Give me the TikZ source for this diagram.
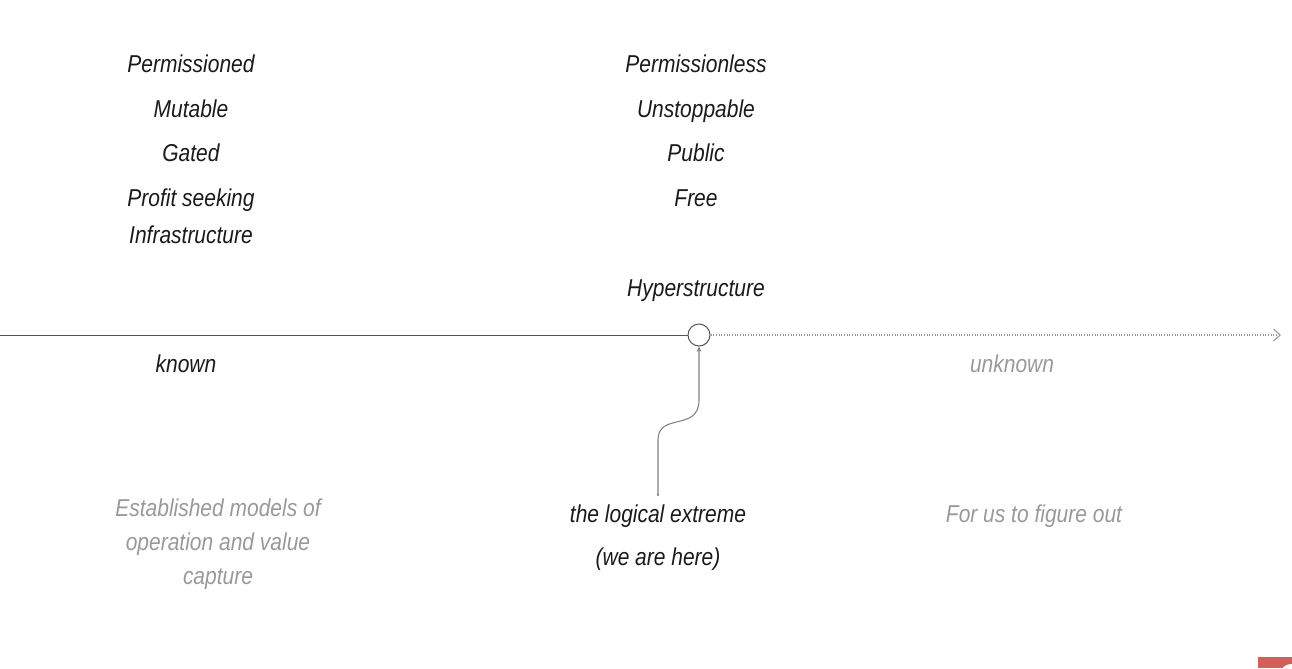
\documentclass[tikz,border=0pt]{standalone}
\usepackage{fontspec}
\setmainfont{Liberation Sans}[FakeStretch=0.86]
\usetikzlibrary{arrows.meta}
\definecolor{ink}{HTML}{1A1A1A}
\definecolor{soft}{HTML}{999999}
\definecolor{redmark}{HTML}{D0605A}
\tikzset{
  lbl/.style={font=\fontsize{18.3}{20}\selectfont\itshape, text=ink, inner sep=0pt, anchor=center, text height=13.2pt, text depth=0pt},
  greylbl/.style={lbl, text=soft},
  para/.style={text=soft, inner sep=0pt, anchor=center, align=center, font=\fontsize{18.3}{25.5}\selectfont\itshape},
}
\begin{document}
\begin{tikzpicture}[x=0.75pt,y=-0.75pt]
\useasboundingbox (0,0) rectangle (1292,668);
% left column
\node[lbl] (perm) at (191,64) {Permissioned};
\node[lbl] (mut) at (191,109) {Mutable};
\node[lbl] (gated) at (191,153) {Gated};
\node[lbl] (profit) at (191,198) {Profit seeking};
\node[lbl] (infra) at (191,235) {Infrastructure};
% middle column
\node[lbl] (permless) at (696,64) {Permissionless};
\node[lbl] (unstop) at (696,109) {Unstoppable};
\node[lbl] (public) at (696,153) {Public};
\node[lbl] (free) at (696,198) {Free};
\node[lbl] (hyper) at (696,288) {Hyperstructure};
% axis
\coordinate (axstart) at (0,335);
\node[circle, draw=ink!75, line width=0.75pt, minimum size=16.5pt, inner sep=0pt] (here) at (699,335) {};
\coordinate (axend) at (1281,335);
\draw[ink!75, line width=0.7pt] (axstart) -- (here.west);
\draw[soft, line width=0.8pt, dash pattern=on 0.8pt off 1.2pt, -{Straight Barb[length=5pt,width=9pt,line width=0.8pt]}] (here.east) -- (axend);
\node[lbl] (known) at (186,364) {known};
\node[greylbl] (unknown) at (1012,364) {unknown};
% bottom labels
\node[para] (established) at (218,544) {Established models of\\operation and value\\capture};
\node[lbl] (logical) at (658,514) {the logical extreme};
\node[lbl] (wehere) at (658,557) {(we are here)};
\node[greylbl] (figure) at (1034,514) {For us to figure out};
% pointer connector
\coordinate (start) at (658,495);
\fill[soft] (start) circle (1.4);
\draw[gray, line width=0.8pt, -{Stealth[length=4pt,width=3.5pt]}] (start) -- (658,440) .. controls (658,412) and (699,432) .. (699,400) -- (here.south);
% corner mark
\begin{scope}
\clip (1258,657) rectangle (1292,668);
\fill[redmark] (1258,657) rectangle (1292,668);
\fill[white] (1291,675) circle (11);
\end{scope}
\end{tikzpicture}
\end{document}
